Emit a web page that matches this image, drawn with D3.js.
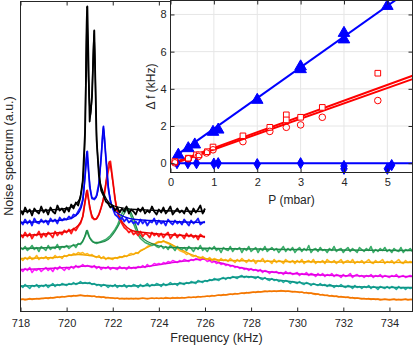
<!DOCTYPE html>
<html>
<head>
<meta charset="utf-8">
<script src="https://cdn.jsdelivr.net/npm/d3@7"></script>
<style>
  body { margin: 0; background: #fff; }
  svg { display: block; font-family: "Liberation Sans", Arial, sans-serif; }
</style>
</head>
<body>
<svg id="chart" width="415" height="346"></svg>
<script>
// spectra are sampled every 0.1 kHz starting at 718 kHz (one row = 1 kHz)
var freqStart = 718;
var freqStep = 0.1;

var black = [
  101, 97, 104, 99, 102, 96, 103, 100, 98, 105,
  99, 102, 97, 104, 100, 98, 106, 101, 103, 99,
  104, 100, 107, 103, 109, 106, 114, 131, 180, 305,
  190, 215, 281, 172, 136, 121, 116, 110, 108, 104,
  106, 101, 104, 99, 103, 100, 105, 98, 102, 100,
  97, 103, 100, 104, 98, 101, 99, 105, 100, 97,
  102, 99, 104, 98, 101, 105, 97, 100, 103, 99,
  101, 98, 104, 100, 97, 103, 99, 102, 106, 98,
  103
];
var blue = [
  90, 87, 92, 88, 91, 86, 93, 89, 88, 92,
  89, 91, 87, 93, 90, 92, 88, 94, 91, 93,
  92, 95, 93, 97, 96, 100, 104, 112, 136, 160,
  125, 113, 112, 116, 128, 155, 185, 155, 124, 110,
  103, 97, 95, 92, 94, 90, 93, 89, 91, 88,
  90, 87, 92, 88, 91, 86, 90, 89, 93, 87,
  91, 88, 90, 86, 92, 89, 87, 91, 88, 90,
  87, 92, 89, 86, 91, 88, 90, 93, 87, 89,
  90
];
var red = [
  77, 74, 79, 75, 78, 73, 77, 76, 80, 74,
  78, 75, 79, 77, 74, 80, 76, 79, 77, 81,
  79, 82, 78, 83, 81, 85, 88, 95, 110, 121,
  104, 94, 92, 93, 97, 104, 112, 127, 140, 150,
  132, 112, 100, 92, 88, 84, 82, 79, 81, 77,
  79, 76, 80, 75, 78, 77, 74, 79, 76, 78,
  75, 78, 74, 77, 79, 73, 76, 78, 74, 77,
  76, 73, 78, 75, 77, 74, 76, 72, 77, 75,
  74
];
var green = [
  64, 62, 65, 61, 63, 66, 62, 64, 60, 65,
  63, 61, 66, 62, 64, 63, 67, 62, 65, 64,
  66, 63, 65, 67, 64, 68, 67, 70, 75, 81,
  74, 71, 69, 68, 69, 70, 71, 72, 74, 76,
  79, 82, 86, 92, 98, 102, 104, 101, 95, 88,
  82, 77, 73, 71, 69, 68, 67, 66, 67, 65,
  64, 66, 63, 65, 62, 66, 64, 61, 65, 63,
  62, 64, 61, 65, 63, 60, 64, 62, 66, 61,
  63, 60, 64, 62, 65, 61, 63, 59, 64, 62,
  61, 65, 60, 63, 62, 64, 59, 63, 61, 65,
  60, 62, 64, 59, 63, 61, 65, 60, 62, 64,
  61, 63, 59, 62, 65, 60, 63, 61, 64, 59,
  62, 64, 60, 63, 61, 66, 59, 62, 63, 60,
  64, 61, 62, 59, 63, 61, 65, 60, 62, 63,
  59, 62, 64, 60, 63, 61, 59, 64, 62, 60,
  63, 61, 65, 59, 62, 60, 63, 61, 64, 60,
  62, 59, 63, 61, 60, 64, 59, 62, 61, 63,
  60
];
var yellow = [
  53, 51, 54, 52, 55, 52, 53, 56, 52, 54,
  53, 55, 52, 54, 53, 56, 54, 55, 53, 56,
  55, 57, 56, 58, 57, 59, 58, 59, 57, 58,
  56, 57, 55, 54, 56, 53, 55, 52, 54, 53,
  52, 54, 53, 55, 54, 56, 55, 57, 58, 57,
  59, 58, 61, 62, 63, 65, 66, 68, 67, 69,
  70, 69, 71, 69, 68, 67, 66, 64, 63, 61,
  60, 59, 57, 58, 56, 55, 56, 54, 53, 55,
  53, 52, 54, 51, 53, 52, 50, 53, 51, 52,
  50, 53, 51, 49, 52, 50, 53, 51, 49, 52,
  50, 52, 48, 51, 50, 53, 49, 51, 50, 48,
  52, 49, 51, 50, 48, 52, 50, 49, 51, 48,
  51, 49, 52, 48, 50, 51, 49, 52, 48, 50,
  49, 51, 48, 52, 50, 49, 51, 48, 50, 52,
  48, 50, 51, 49, 52, 48, 50, 49, 51, 48,
  50, 52, 49, 48, 51, 49, 50, 52, 48, 50,
  49, 51, 48, 50, 52, 49, 48, 51, 49, 50,
  49
];
var magenta = [
  42, 40, 43, 41, 44, 39, 42, 41, 43, 40,
  42, 44, 41, 43, 40, 44, 42, 45, 43, 41,
  44, 42, 45, 43, 46, 44, 45, 47, 45, 46,
  45, 44, 46, 43, 45, 42, 44, 43, 45, 42,
  44, 43, 42, 45, 43, 44, 42, 45, 43, 44,
  43, 45, 44, 46, 44, 47, 45, 46, 48, 47,
  48, 47, 49, 48, 50, 49, 51, 50, 49, 51,
  50, 52, 51, 50, 52, 51, 53, 52, 51, 53,
  52, 50, 51, 49, 50, 48, 49, 47, 48, 46,
  47, 45, 46, 44, 45, 43, 44, 42, 43, 41,
  43, 41, 42, 40, 42, 39, 41, 40, 38, 40,
  39, 40, 38, 39, 37, 40, 38, 39, 37, 38,
  39, 36, 38, 37, 39, 36, 38, 37, 35, 38,
  36, 38, 35, 37, 36, 38, 35, 37, 36, 34,
  37, 35, 36, 38, 34, 36, 37, 35, 36, 34,
  36, 35, 37, 34, 36, 35, 37, 34, 36, 35,
  34, 36, 35, 37, 34, 35, 36, 34, 35, 36,
  35
];
var teal = [
  26, 24, 27, 25, 23, 26, 25, 27, 24, 26,
  25, 27, 24, 26, 28, 25, 27, 26, 28, 27,
  26, 28, 27, 29, 27, 28, 30, 28, 29, 28,
  29, 27, 28, 26, 27, 25, 27, 26, 24, 26,
  25, 27, 24, 26, 25, 27, 24, 26, 25, 27,
  26, 24, 27, 25, 26, 28, 25, 27, 26, 28,
  27, 25, 28, 26, 27, 29, 27, 28, 26, 29,
  28, 27, 29, 28, 30, 29, 28, 31, 30, 29,
  31, 30, 32, 31, 33, 32, 31, 33, 34, 32,
  34, 33, 35, 34, 33, 35, 36, 34, 35, 34,
  35, 34, 33, 35, 33, 32, 34, 32, 31, 33,
  31, 32, 30, 31, 29, 31, 30, 28, 30, 29,
  28, 30, 28, 27, 29, 28, 26, 28, 27, 26,
  28, 26, 27, 25, 27, 26, 24, 26, 25, 27,
  25, 24, 26, 25, 23, 26, 24, 25, 23, 25,
  24, 26, 23, 25, 24, 22, 25, 24, 23, 25,
  23, 25, 24, 22, 25, 23, 24, 22, 24, 23,
  24
];
var orange = [
  12, 12.5, 11.5, 12, 13, 12, 12.5, 13, 12.5, 13,
  13, 13.5, 13, 14, 13.5, 14, 14.5, 14, 15, 14.5,
  15, 15.5, 15, 16, 15.5, 16, 16.5, 16, 15.5, 16,
  15.5, 15, 15.5, 14.5, 15, 14, 14.5, 13.5, 14, 13.5,
  13.5, 13, 13.5, 12.5, 13, 12.5, 13, 12.5, 13, 12.5,
  13, 12.5, 13, 13.5, 13, 12.5, 13, 13.5, 13, 13.5,
  13, 13.5, 13, 14, 13.5, 13, 14, 13.5, 14, 13.5,
  14, 13.5, 14, 14.5, 14, 14.5, 14, 15, 14.5, 15,
  15, 15.5, 15, 16, 15.5, 16, 16.5, 16, 17, 16.5,
  17, 17.5, 17, 18, 17.5, 18, 18.5, 18, 19, 18.5,
  19, 19.5, 19, 20, 19.5, 20, 20.5, 20, 20.5, 20,
  20.5, 20, 20.5, 21, 20.5, 20, 20.5, 20, 19.5, 20,
  19.5, 19, 19.5, 18.5, 19, 18, 18.5, 17.5, 17, 17.5,
  16.5, 17, 16, 16.5, 15.5, 16, 15, 15.5, 14.5, 15,
  14.5, 14, 14.5, 13.5, 14, 13, 13.5, 13, 12.5, 13,
  12.5, 13, 12, 12.5, 12, 12.5, 11.5, 12, 12.5, 12,
  11.5, 12, 12.5, 11.5, 12, 11.5, 12, 12.5, 11.5, 12,
  12
];

// fitted curves, [frequency, level]
var blackFit = [[718, 100], [720, 103], [720.5, 110], [720.7, 130], [720.8, 180], [720.87, 305], [720.95, 230], [721.03, 195], [721.1, 215], [721.19, 281], [721.3, 175], [721.5, 125], [722, 106], [723, 102], [726, 100]];
var blueFit = [[718, 89], [720, 92], [720.5, 98], [720.7, 110], [720.8, 135], [720.87, 160], [720.95, 140], [721.1, 114], [721.25, 113], [721.4, 127], [721.5, 155], [721.59, 185], [721.7, 155], [721.85, 118], [722.1, 100], [723, 92], [726, 89]];
var redFit = [[718, 76], [720, 80], [720.5, 86], [720.7, 95], [720.8, 110], [720.87, 121], [720.95, 112], [721.1, 96], [721.25, 92], [721.45, 100], [721.65, 120], [721.85, 150], [722, 130], [722.2, 100], [722.5, 87], [723, 80], [726, 75]];
var greenFit = [[718, 63], [720, 65], [720.6, 68], [720.8, 76], [720.87, 81], [720.95, 76], [721.2, 69], [721.45, 69], [721.8, 72], [722.2, 84], [722.5, 98], [722.67, 103], [722.85, 96], [723.1, 80], [723.5, 70], [724.5, 64], [735, 61]];
var yellowFit = [[718, 53], [719.5, 54], [720.5, 57], [721, 56], [721.8, 53], [722.5, 55], [723, 58], [723.5, 64], [724.2, 70], [724.8, 64], [725.3, 58], [726, 53], [727, 51], [735, 49]];
var magentaFit = [[718, 42], [720, 44], [720.9, 45.5], [721.5, 44], [722.5, 43.5], [723.5, 45], [724.5, 48.5], [725.3, 51], [725.93, 52.5], [726.6, 49], [727.5, 44], [728.5, 40.5], [729.7, 38], [731, 36.5], [733, 35.5], [735, 35]];
var tealFit = [[718, 25.5], [720, 27], [720.7, 28.5], [721.5, 26.5], [722.5, 25.5], [724, 26.5], [725.5, 29], [726.5, 32], [727.8, 35], [728.8, 32.5], [729.7, 30], [731, 26.5], [733, 24.5], [735, 24]];
var orangeFit = [[718, 12], [719.5, 14], [720.6, 16], [721.5, 14.5], [722.5, 13], [724, 13.2], [725.5, 14.2], [727, 17], [728.3, 19.5], [729.4, 20.5], [730.5, 18.5], [731.5, 15.5], [732.5, 13.5], [734, 12], [735, 12]];

var freqTicks = [718, 720, 722, 724, 726, 728, 730, 732, 734];

// inset: frequency shift vs pressure
var triangles = [[0.18, 0.45], [0.41, 0.8], [0.56, 1.0], [0.98, 1.68], [1.1, 1.8], [2.0, 3.4], [3.0, 5.2], [3.0, 5.05], [4.0, 7.0], [4.0, 6.65], [5.0, 8.45]];
var diamonds = [[0.15, 0], [0.4, 0], [0.6, 0], [1.0, -0.02], [1.1, 0], [2.0, -0.05], [3.0, 0], [4.0, -0.15], [4.0, -0.3], [5.0, -0.3], [5.1, -0.1]];
var squares = [[0.1, 0.09], [0.41, 0.27], [0.6, 0.45], [0.66, 0.45], [0.85, 0.62], [0.98, 0.87], [1.67, 1.47], [2.29, 1.93], [2.67, 2.6], [2.67, 2.33], [3.0, 2.47], [3.5, 3.0], [4.78, 4.84]];
var circles = [[0.1, 0.02], [0.41, 0.24], [0.64, 0.36], [0.83, 0.55], [0.98, 0.72], [1.67, 1.16], [2.29, 1.71], [2.67, 1.93], [3.0, 2.06], [3.5, 2.47], [4.78, 3.37]];
var triangleFit = [[0.15, 0.45], [5.6, 9.45]];
var diamondFit = [[0.1, 0], [5.58, 0]];
var squareFit = [[0.1, 0.06], [5.58, 4.7]];
var circleFit = [[0.1, 0.0], [5.58, 4.52]];
var pTicks = [0, 1, 2, 3, 4, 5];
var dfTicks = [0, 2, 4, 6, 8];

var axisColor = "#262626";

var svg = d3.select("#chart");

var x = d3.scaleLinear().domain([718, 735]).range([20.5, 412.5]);
var y = d3.scaleLinear().domain([0, 310]).range([311.5, 1.5]);

function pairs(values) {
  return values.map(function(v, i) {
    return [freqStart + i * freqStep, v];
  });
}

var noisy = d3.line()
  .x(function(d) { return x(d[0]); })
  .y(function(d) { return y(d[1]); });

var smooth = d3.line()
  .curve(d3.curveMonotoneX)
  .x(function(d) { return x(d[0]); })
  .y(function(d) { return y(d[1]); });

// bottom trace first, black on top
var traces = [
  { values: orange, fit: orangeFit, color: "#ff8c1a", fitColor: "#f27500", w: 1.4 },
  { values: teal, fit: tealFit, color: "#1fae9f", fitColor: "#0e9486", w: 1.6 },
  { values: magenta, fit: magentaFit, color: "#ff1aff", fitColor: "#e000e0", w: 1.6 },
  { values: yellow, fit: yellowFit, color: "#ffb81f", fitColor: "#f0a500", w: 1.6 },
  { values: green, fit: greenFit, color: "#3aae6a", fitColor: "#1f8a4a", w: 1.6 },
  { values: red, fit: redFit, color: "#ff1a1a", fitColor: "#e80000", w: 1.8 },
  { values: blue, fit: blueFit, color: "#1a1aff", fitColor: "#0000e8", w: 1.8 },
  { values: black, fit: blackFit, color: "#000000", fitColor: "#000000", w: 1.8 }
];

var spectra = svg.append("g");

traces.forEach(function(t) {
  spectra.append("path")
    .attr("d", noisy(pairs(t.values)))
    .attr("fill", "none")
    .attr("stroke", t.color)
    .attr("stroke-width", t.w)
    .attr("stroke-linejoin", "round");
  spectra.append("path")
    .attr("d", smooth(t.fit))
    .attr("fill", "none")
    .attr("stroke", t.fitColor)
    .attr("stroke-width", 1.3);
});

// main frame and ticks
svg.append("rect")
  .attr("x", 20.5).attr("y", 1.5)
  .attr("width", 392).attr("height", 310)
  .attr("fill", "none")
  .attr("stroke", axisColor)
  .attr("stroke-width", 1);

var bottomAxis = svg.append("g")
  .attr("transform", "translate(0,311.5)")
  .call(d3.axisBottom(x).tickValues(freqTicks).tickSizeInner(-4).tickSizeOuter(0).tickPadding(8));

var topAxis = svg.append("g")
  .attr("transform", "translate(0,1.5)")
  .call(d3.axisTop(x).tickValues(freqTicks).tickSizeInner(-4).tickSizeOuter(0).tickFormat(""));

[bottomAxis, topAxis].forEach(function(g) {
  g.select(".domain").remove();
  g.selectAll("line").attr("stroke", axisColor);
  g.selectAll("text")
    .attr("fill", axisColor)
    .style("font-size", "11px")
    .style("font-family", "'Liberation Sans', Arial, sans-serif");
});

svg.append("text")
  .attr("x", 216.5).attr("y", 342)
  .attr("text-anchor", "middle")
  .attr("fill", axisColor)
  .style("font-size", "12.5px")
  .text("Frequency (kHz)");

svg.append("text")
  .attr("transform", "translate(12.5,156) rotate(-90)")
  .attr("text-anchor", "middle")
  .attr("fill", axisColor)
  .style("font-size", "12.5px")
  .text("Noise spectrum (a.u.)");

// inset
var ix = d3.scaleLinear().domain([0, 5.58]).range([170.5, 412.5]);
var iy = d3.scaleLinear().domain([-0.5, 8.75]).range([172.5, 0.5]);

var inset = svg.append("g");

inset.append("rect")
  .attr("x", ix.range()[0]).attr("y", iy.range()[1])
  .attr("width", ix.range()[1] - ix.range()[0])
  .attr("height", iy.range()[0] - iy.range()[1])
  .attr("fill", "#fff");

inset.append("clipPath")
  .attr("id", "insetClip")
  .append("rect")
  .attr("x", ix.range()[0]).attr("y", iy.range()[1])
  .attr("width", ix.range()[1] - ix.range()[0])
  .attr("height", iy.range()[0] - iy.range()[1]);

// grid
inset.selectAll(".vgrid")
  .data(pTicks)
  .enter()
  .append("line")
  .attr("x1", ix).attr("x2", ix)
  .attr("y1", iy.range()[0]).attr("y2", iy.range()[1])
  .attr("stroke", "#e6e6e6");

inset.selectAll(".hgrid")
  .data(dfTicks)
  .enter()
  .append("line")
  .attr("y1", iy).attr("y2", iy)
  .attr("x1", ix.range()[0]).attr("x2", ix.range()[1])
  .attr("stroke", "#e6e6e6");

var iline = d3.line()
  .x(function(d) { return ix(d[0]); })
  .y(function(d) { return iy(d[1]); });

var fits = inset.append("g").attr("clip-path", "url(#insetClip)");

fits.append("path").attr("d", iline(diamondFit))
  .attr("stroke", "#0000ff").attr("stroke-width", 2).attr("fill", "none");
fits.append("path").attr("d", iline(triangleFit))
  .attr("stroke", "#0000ff").attr("stroke-width", 2).attr("fill", "none");
fits.append("path").attr("d", iline(circleFit))
  .attr("stroke", "#ff0000").attr("stroke-width", 2).attr("fill", "none");
fits.append("path").attr("d", iline(squareFit))
  .attr("stroke", "#ff0000").attr("stroke-width", 2).attr("fill", "none");

function place(d) {
  return "translate(" + ix(d[0]) + "," + iy(d[1]) + ")";
}

inset.selectAll(".tri")
  .data(triangles)
  .enter()
  .append("path")
  .attr("d", d3.symbol().type(d3.symbolTriangle).size(58))
  .attr("transform", place)
  .attr("fill", "#0000ff")
  .attr("stroke", "#0000ff")
  .attr("stroke-width", 1);

inset.selectAll(".dia")
  .data(diamonds)
  .enter()
  .append("path")
  .attr("d", d3.symbol().type(d3.symbolDiamond).size(36))
  .attr("transform", place)
  .attr("fill", "#0000ff")
  .attr("stroke", "#0000ff")
  .attr("stroke-width", 1);

inset.selectAll(".sq")
  .data(squares)
  .enter()
  .append("path")
  .attr("d", d3.symbol().type(d3.symbolSquare).size(32))
  .attr("transform", place)
  .attr("fill", "#fff")
  .attr("stroke", "#ff0000")
  .attr("stroke-width", 1);

inset.selectAll(".circ")
  .data(circles)
  .enter()
  .append("circle")
  .attr("cx", function(d) { return ix(d[0]); })
  .attr("cy", function(d) { return iy(d[1]); })
  .attr("r", 3.3)
  .attr("fill", "none")
  .attr("stroke", "#ff0000")
  .attr("stroke-width", 1);

// inset frame and ticks
inset.append("rect")
  .attr("x", ix.range()[0]).attr("y", iy.range()[1])
  .attr("width", ix.range()[1] - ix.range()[0])
  .attr("height", iy.range()[0] - iy.range()[1])
  .attr("fill", "none")
  .attr("stroke", axisColor)
  .attr("stroke-width", 1);

var ib = inset.append("g")
  .attr("transform", "translate(0," + iy.range()[0] + ")")
  .call(d3.axisBottom(ix).tickValues(pTicks).tickFormat(d3.format("d")).tickSizeInner(-4).tickSizeOuter(0).tickPadding(6));
var it = inset.append("g")
  .attr("transform", "translate(0," + iy.range()[1] + ")")
  .call(d3.axisTop(ix).tickValues(pTicks).tickSizeInner(-4).tickSizeOuter(0).tickFormat(""));
var il = inset.append("g")
  .attr("transform", "translate(" + ix.range()[0] + ",0)")
  .call(d3.axisLeft(iy).tickValues(dfTicks).tickFormat(d3.format("d")).tickSizeInner(-4).tickSizeOuter(0).tickPadding(4));
var ir = inset.append("g")
  .attr("transform", "translate(" + ix.range()[1] + ",0)")
  .call(d3.axisRight(iy).tickValues(dfTicks).tickSizeInner(-4).tickSizeOuter(0).tickFormat(""));

[ib, it, il, ir].forEach(function(g) {
  g.select(".domain").remove();
  g.selectAll("line").attr("stroke", axisColor);
  g.selectAll("text")
    .attr("fill", axisColor)
    .style("font-size", "11px")
    .style("font-family", "'Liberation Sans', Arial, sans-serif");
});

inset.append("text")
  .attr("x", 291.5).attr("y", 204)
  .attr("text-anchor", "middle")
  .attr("fill", axisColor)
  .style("font-size", "12px")
  .text("P (mbar)");

inset.append("text")
  .attr("transform", "translate(154.5,86.5) rotate(-90)")
  .attr("text-anchor", "middle")
  .attr("fill", axisColor)
  .style("font-size", "12px")
  .text("\u0394 f (kHz)");
</script>
</body>
</html>
